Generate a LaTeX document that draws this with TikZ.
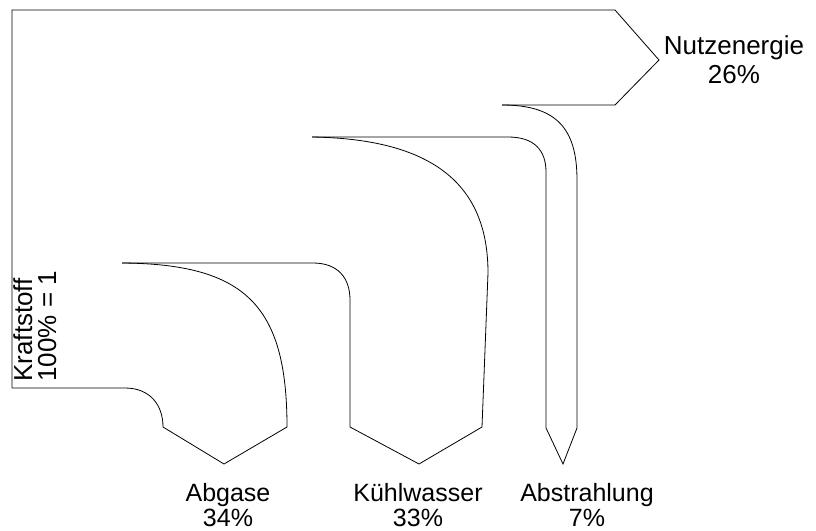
\documentclass[tikz,border=0pt]{standalone}
\usepackage{fontspec}
\setmainfont{Liberation Sans}
\usepackage{tikz}

\begin{document}
\begin{tikzpicture}[x=1pt,y=-1pt,line width=0.8pt,
	lbl/.style={align=center,inner sep=0pt,anchor=north,font=\fontsize{25}{25}\selectfont}]
			\useasboundingbox (0,0) rectangle (816,530);
			% Kraftstoff band with Nutzenergie arrow
			\draw (12,388) -- (12,10) -- (615,10) -- (659,60) -- (615,105) -- (502,105);
			% Abstrahlung
			\draw (502,105) .. controls (556,105) and (577,128) .. (577,180) -- (577,428) -- (563,464) -- (546,428) -- (546,172) .. controls (546,150) and (534,137) .. (508,137) -- (312,137);
			% Kuehlwasser
			\draw (312,137) .. controls (440,139) and (488,190) .. (488,273) -- (482,427) -- (419,464) -- (350,427) -- (350,300) .. controls (350,278) and (338,263) .. (313,263) -- (122,263);
			% Abgase
			\draw (122,263) .. controls (245,264) and (287,305) .. (287,427) -- (224,464) -- (163,427) .. controls (163,405) and (150,388) .. (125,388) -- (12,388);

			\node[lbl,font=\fontsize{26}{29}\selectfont] (nutz) at (734,35) {Nutzenergie\\26\%};
			\node[lbl] (abg) at (228,483) {Abgase\\34\%};
			\node[lbl] (kuehl) at (418,483) {Kühlwasser\\33\%};
			\node[lbl] (abstr) at (587,483) {Abstrahlung\\7\%};
			\node[lbl,font=\fontsize{26}{24}\selectfont,align=left,rotate=90,anchor=north west,inner sep=1pt] (kraft) at (12,383) {Kraftstoff\\100\% = 1};
		\end{tikzpicture}
\end{document}
